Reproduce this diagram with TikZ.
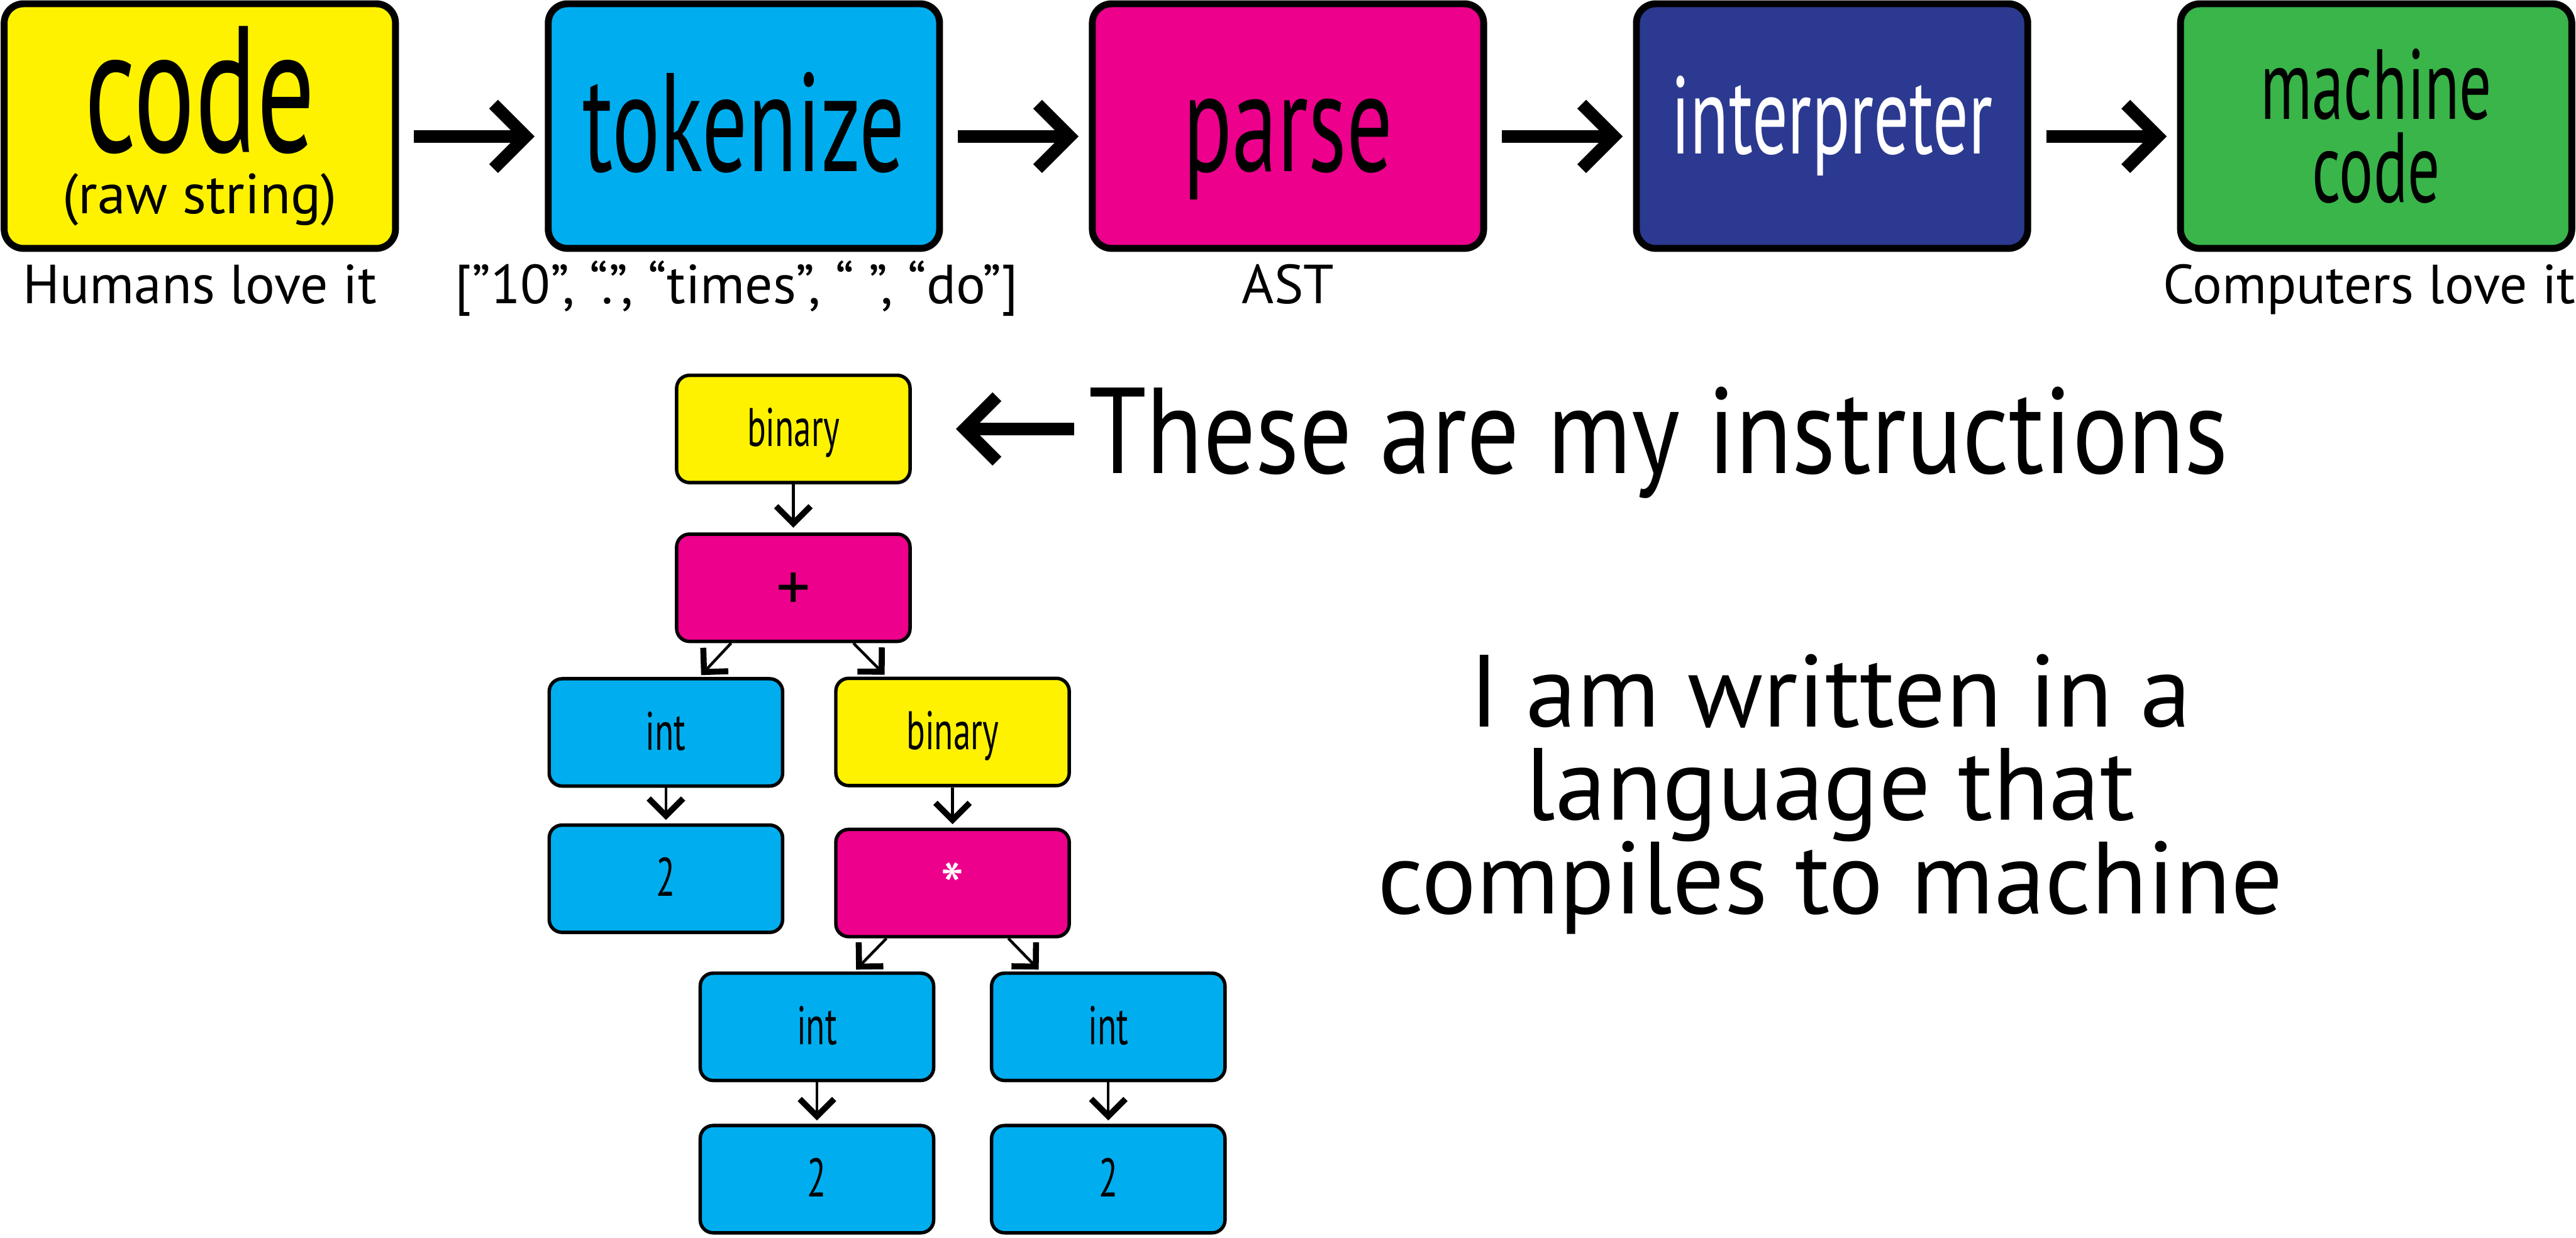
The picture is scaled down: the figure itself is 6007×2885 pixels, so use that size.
\documentclass[tikz,border=0pt]{standalone}
\usepackage{fontspec}
\setmainfont{PT Sans}
\newfontfamily\narrowfont[FakeStretch=0.64]{PT Sans}
\newfontfamily\captionfont[FakeStretch=0.85]{PT Sans}
\usepackage{tikz}
\usetikzlibrary{arrows.meta,positioning}
\definecolor{procyellow}{RGB}{255,242,0}
\definecolor{proccyan}{RGB}{0,174,239}
\definecolor{procmagenta}{RGB}{236,0,140}
\definecolor{procnavy}{RGB}{43,57,144}
\definecolor{procgreen}{RGB}{57,181,74}

\begin{document}
\begin{tikzpicture}[
  x=0.01cm,y=-0.01cm,
  stagebox/.style={draw,line width=0.16cm,rounded corners=0.45cm,minimum width=9.12cm,minimum height=5.7cm,inner sep=0pt,align=center},
  onelab/.style={text height=2.1cm,text depth=0cm},
  sublab/.style={font=\fontsize{36.5pt}{40pt}\selectfont,inner sep=0pt,text height=0.95cm,text depth=0.25cm},
  astnode/.style={draw,line width=0.08cm,rounded corners=0.3cm,minimum width=5.44cm,minimum height=2.5cm,inner sep=0pt,font=\narrowfont\fontsize{36pt}{40pt}\selectfont,text height=0.95cm,text depth=0.13cm},
  opsign/.style={font=\fontsize{45pt}{50pt}\selectfont,text height=1.06cm,text depth=0cm},
  bigarr/.style={line width=0.29cm,-{Straight Barb[length=0.75cm,width=1.5cm]},shorten <=0.35cm,shorten >=0.24cm},
  treearr/.style={line width=0.065cm,-{Straight Barb[length=0.4cm,width=0.8cm,line width'=0.14cm]}},
]
\useasboundingbox (0,0) rectangle (6007,2885);
% pipeline
\node[stagebox,fill=procyellow,font=\fontsize{37.5pt}{40.7pt}\selectfont] (code) at (466,294)
  {{\narrowfont\fontsize{119pt}{119pt}\selectfont code}\\(raw string)};
\node[stagebox,onelab,fill=proccyan,right=3.4cm of code,font=\narrowfont\fontsize{93pt}{100pt}\selectfont] (tok) {tokenize};
\node[stagebox,onelab,fill=procmagenta,right=3.4cm of tok,font=\narrowfont\fontsize{94pt}{100pt}\selectfont] (parse) {parse};
\node[stagebox,fill=procnavy,text=white,right=3.4cm of parse,font=\narrowfont\fontsize{73pt}{80pt}\selectfont,text height=1.3cm,text depth=0cm] (interp) {interpreter};
\node[stagebox,fill=procgreen,right=3.4cm of interp,font=\narrowfont\fontsize{66pt}{55.2pt}\selectfont] (mach) {machine\\code};
\draw[bigarr] ([yshift=-0.24cm]code.east) -- ([yshift=-0.24cm]tok.west);
\draw[bigarr] ([yshift=-0.24cm]tok.east) -- ([yshift=-0.24cm]parse.west);
\draw[bigarr] ([yshift=-0.24cm]parse.east) -- ([yshift=-0.24cm]interp.west);
\draw[bigarr] ([yshift=-0.24cm]interp.east) -- ([yshift=-0.24cm]mach.west);
% notes under the stages
\node[sublab,below=0.25cm of code] (codenote) {Humans love it};
\node[sublab,below=0.25cm of tok,xshift=-0.17cm] (toknote) {[”10”, “.”, “times”, “ ”, “do”]};
\node[sublab,below=0.25cm of parse] (parsenote) {AST};
\node[sublab,below=0.25cm of mach,xshift=-0.16cm] (machnote) {Computers love it};
% the tree
\node[astnode,fill=procyellow] (bin1) at (1850,1000) {binary};
\node[astnode,opsign,fill=procmagenta,below=1.12cm of bin1] (plus) {+};
\node[astnode,fill=proccyan,below=0.79cm of plus,xshift=-2.97cm] (intL) {int};
\node[astnode,fill=procyellow,below=0.78cm of plus,xshift=3.71cm] (bin2) {binary};
\node[astnode,fill=proccyan,below=0.83cm of intL] (twoL) {2};
\node[astnode,opsign,fill=procmagenta,text=white,below=0.94cm of bin2,text height=1.3cm] (star) {*};
\node[astnode,fill=proccyan,below=0.77cm of star,xshift=-3.16cm] (intLL) {int};
\node[astnode,fill=proccyan,below=0.77cm of star,xshift=3.63cm] (intRR) {int};
\node[astnode,fill=proccyan,below=0.97cm of intLL] (twoLL) {2};
\node[astnode,fill=proccyan,below=0.97cm of intRR] (twoRR) {2};
\draw[treearr,shorten >=0.11cm] (bin1) -- (plus);
\draw[treearr,shorten >=0.06cm] ([xshift=-1.45cm]plus.south) -- ([xshift=0.78cm]intL.north);
\draw[treearr,shorten >=0.06cm] ([xshift=1.40cm]plus.south) -- ([xshift=-1.54cm]bin2.north);
\draw[treearr,shorten >=0.08cm] (intL) -- (twoL);
\draw[treearr,shorten >=0.08cm] (bin2) -- (star);
\draw[treearr,shorten >=0.06cm] ([xshift=-1.54cm]star.south) -- ([xshift=0.87cm]intLL.north);
\draw[treearr,shorten >=0.06cm] ([xshift=1.30cm]star.south) -- ([xshift=-1.58cm]intRR.north);
\draw[treearr,shorten >=0.08cm] (intLL) -- (twoLL);
\draw[treearr,shorten >=0.08cm] (intRR) -- (twoRR);
% captions
\node[anchor=base west,inner sep=0pt,font=\captionfont\fontsize{81pt}{90pt}\selectfont] (instr) at (2538,1104) {These are my instructions};
\draw[bigarr,shorten <=0.33cm,shorten >=1.03cm] (instr.west |- bin1.east) -- (bin1.east);
\node[anchor=north,align=center,inner sep=0pt,font=\fontsize{68pt}{62pt}\selectfont\setlength{\lineskiplimit}{-100pt}] (lang) at (4268,1524)
  {I am written in a\\language that\\compiles to machine};
\end{tikzpicture}
\end{document}
